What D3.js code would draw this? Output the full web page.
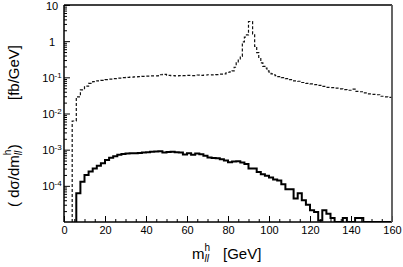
<!DOCTYPE html>
<html><head><meta charset="utf-8">
<script src="https://cdn.jsdelivr.net/npm/d3@7"></script>
<style>body{margin:0;background:#fff}svg{display:block}text{font-family:"Liberation Sans",Arial,sans-serif;fill:#000}</style>
</head><body>
<svg id="c" width="403" height="267"></svg>
<script>
// ---- data ----
const xTicks = [0,20,40,60,80,100,120,140,160];
const yTicks = [1e-4,1e-3,1e-2,1e-1,1,10];
// dashed histogram: 1 GeV bins starting at 4 GeV
const dashedStart = 4, dashedWidth = 1;
const dashedValues = [
 0.0062,0.0062, 0.029,0.029, 0.045,0.045, 0.057,0.057, 0.068,0.068, 0.076,0.076,
 0.080,0.080, 0.082,0.082, 0.086,0.086, 0.089,0.089, 0.092,0.092, 0.095,0.095,
 0.098,0.098, 0.100,0.100, 0.101,0.101, 0.103,0.103, 0.104,0.104, 0.106,0.106,
 0.108,0.108, 0.110,0.110, 0.110,0.110, 0.118,0.118, 0.121,0.121, 0.114,0.114,
 0.112,0.112, 0.110,0.110, 0.112,0.112, 0.111,0.111, 0.113,0.113, 0.112,0.112,
 0.116,0.116, 0.114,0.114, 0.116,0.116, 0.118,0.118, 0.117,0.117, 0.119,0.119,
 0.122,0.122, 0.125,0.133,
 0.138,0.143,0.150,0.19,0.25,0.30,0.38,0.95,1.3,1.5,3.5,3.5,1.6,0.72,0.48,0.33,
 0.25,0.20,0.18,0.15,0.14,0.125,0.118,0.112,
 0.105,0.105, 0.098,0.098, 0.092,0.092, 0.086,0.086, 0.080,0.080, 0.078,0.078,
 0.072,0.072, 0.068,0.068, 0.066,0.066, 0.063,0.063, 0.060,0.060, 0.056,0.056,
 0.053,0.053, 0.052,0.052, 0.050,0.050, 0.048,0.048, 0.046,0.046, 0.044,0.044,
 0.047,0.047, 0.041,0.041, 0.040,0.040, 0.037,0.037, 0.035,0.035, 0.034,0.034,
 0.033,0.033, 0.030,0.030, 0.029,0.029, 0.028,0.028
];
// solid histogram: 2 GeV bins starting at 6 GeV
const solidStart = 6, solidWidth = 2;
const solidValues = [
 6.2e-5,1.3e-4,2.0e-4,2.5e-4,3.0e-4,3.6e-4,4.2e-4,5.2e-4,6.0e-4,6.6e-4,7.2e-4,7.6e-4,
 7.8e-4,7.9e-4,8.0e-4,8.1e-4,8.3e-4,8.5e-4,8.8e-4,8.9e-4,9.0e-4,8.3e-4,8.6e-4,8.7e-4,
 8.5e-4,8.4e-4,7.3e-4,8.0e-4,7.2e-4,7.8e-4,7.5e-4,6.8e-4,6.1e-4,5.9e-4,5.8e-4,5.4e-4,
 5.0e-4,4.5e-4,4.7e-4,4.8e-4,4.4e-4,4.0e-4,3.0e-4,3.0e-4,2.4e-4,2.1e-4,1.9e-4,1.7e-4,
 1.5e-4,1.4e-4,1.1e-4,8e-5,8e-5,4.5e-5,6.2e-5,4e-5,3e-5,2.1e-5,1.9e-5,1.1e-5,
 2.1e-5,1.7e-5,1.3e-5,0,0,1.3e-5,0,0,1.3e-5,1.3e-5,0,0,0,0,0,0,0
];

// ---- chart ----
const svg = d3.select("#c");
const L=64, R=392, T=5, B=222;
const x = d3.scaleLinear().domain([0,160]).range([L,R]);
const y = d3.scaleLog().domain([1e-5,10]).range([B,T]).clamp(true);
const yv = v => v > 0 ? y(v) : B;

function stepPath(start, width, vals){
  const p = d3.path();
  p.moveTo(x(start), B);
  vals.forEach((v,i)=>{
    p.lineTo(x(start+i*width), yv(v));
    p.lineTo(x(start+(i+1)*width), yv(v));
  });
  return p.toString();
}

const clip = svg.append("clipPath").attr("id","cp").append("rect")
  .attr("x",L).attr("y",T).attr("width",R-L).attr("height",B-T);

const plot = svg.append("g").attr("clip-path","url(#cp)");
plot.append("path").attr("d",stepPath(dashedStart,dashedWidth,dashedValues))
  .attr("fill","none").attr("stroke","#111").attr("stroke-width",1.2).attr("stroke-dasharray","3,2");
plot.append("path").attr("d",stepPath(solidStart,solidWidth,solidValues))
  .attr("fill","none").attr("stroke","#000").attr("stroke-width",2);

// x axis ticks (inward)
const xMinor = d3.range(0,161,5).filter(v=>v%20!==0);
const xa = svg.append("g").attr("transform",`translate(0,${B})`);
xa.call(d3.axisBottom(x).tickValues(xMinor).tickSize(-3).tickFormat(""));
xa.call(g=>g.select(".domain").remove());
const xb = svg.append("g").attr("transform",`translate(0,${B})`);
xb.call(d3.axisBottom(x).tickValues(xTicks).tickSize(-6).tickPadding(11).tickFormat(d3.format("d")));
xb.select(".domain").remove();
xb.selectAll("text").attr("font-size",11).attr("font-family",'"Liberation Sans",Arial,sans-serif').attr("dy","0.1em");
svg.selectAll(".tick line").attr("stroke","#000").attr("stroke-width",1);

// y axis ticks (inward)
const yMinor = [];
for (let e=-5;e<1;e++) for (let k=2;k<10;k++) yMinor.push(k*Math.pow(10,e));
const ya = svg.append("g").attr("transform",`translate(${L},0)`);
ya.call(d3.axisLeft(y).tickValues(yMinor).tickSize(-3).tickFormat(""));
ya.select(".domain").remove();
const yb = svg.append("g").attr("transform",`translate(${L},0)`);
yb.call(d3.axisLeft(y).tickValues(yTicks).tickSize(-6).tickFormat(""));
yb.select(".domain").remove();
svg.selectAll(".tick line").attr("stroke","#000").attr("stroke-width",1);
yb.selectAll(".tick").each(function(d){
  const e = Math.round(Math.log10(d));
  const t = d3.select(this).append("text").attr("x",-12).attr("y",4)
    .attr("text-anchor","middle").attr("font-size",11).attr("fill","#000");
  if (e>=0) t.text(d3.format("d")(d));
  else {
    t.append("tspan").text("10");
    t.append("tspan").attr("dy",-4).attr("font-size",8).text("-"+(-e));
  }
});

// frame
svg.append("line").attr("x1",L).attr("x2",R).attr("y1",T).attr("y2",T).attr("stroke","#000").attr("stroke-width",1.5);
svg.append("line").attr("x1",L).attr("x2",R).attr("y1",B).attr("y2",B).attr("stroke","#000").attr("stroke-width",1.5);
svg.append("line").attr("x1",L).attr("x2",L).attr("y1",T).attr("y2",B).attr("stroke","#000").attr("stroke-width",1.5);
svg.append("line").attr("x1",R).attr("x2",R).attr("y1",T).attr("y2",B).attr("stroke","#555").attr("stroke-width",1.8);

// x title
const xt = svg.append("text").attr("x",192).attr("y",259).attr("font-size",15);
xt.append("tspan").text("m");
xt.append("tspan").attr("dy",-8).attr("font-size",10).text("h");
xt.append("tspan").attr("dx",-5.5).attr("dy",11).attr("font-size",10).attr("font-style","italic").text("ll");
xt.append("tspan").attr("x",223).attr("dy",-3).text("[GeV]");

// y title
const yt = svg.append("text").attr("transform","translate(19,207) rotate(-90)").attr("font-size",15);
yt.append("tspan").text("( dσ/dm");
yt.append("tspan").attr("dy",-8).attr("font-size",10).text("h");
yt.append("tspan").attr("dx",-5.5).attr("dy",11).attr("font-size",10).attr("font-style","italic").text("ll");
yt.append("tspan").attr("dx",1.5).attr("dy",-3).text(")");
yt.append("tspan").attr("x",107).text("[fb/GeV]");
</script>
</body></html>
